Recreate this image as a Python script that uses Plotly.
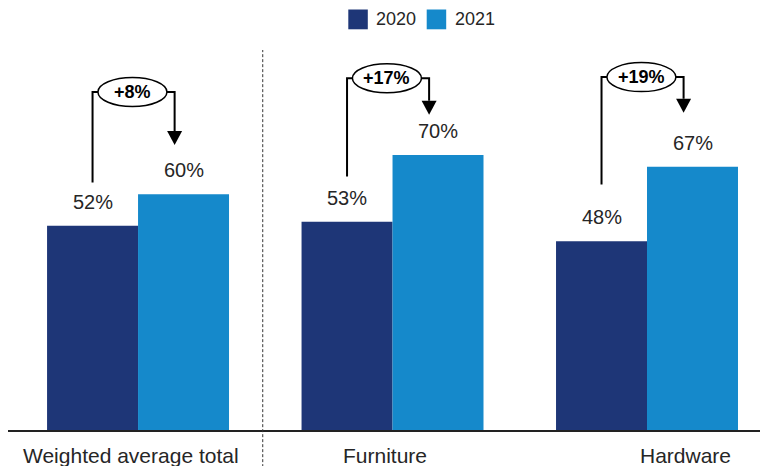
import plotly.graph_objects as go

# Data
categories = ["Weighted average total", "Furniture", "Hardware"]
years = ["2020", "2021"]
values_2020 = [52, 53, 48]
values_2021 = [60, 70, 67]
change_labels = ["+8%", "+17%", "+19%"]

# Styling / layout constants
DARK = "#1E3677"
LIGHT = "#1589CB"
TEXT = "#262626"
FONT = "Liberation Sans, Arial, sans-serif"
W, H = 760, 466
ML, MR, MT, MB = 8, 0, 37, 36
X_RANGE = [-0.511, 2.444]
Y_RANGE = [0, 100]
BARGAP = 0.285
half = (1 - BARGAP) / 2          # width of one bar in x units
off = half / 2                    # bar centre offset from category centre

# bracket geometry (in axis units)
bracket_start = [63, 64.5, 62.5]   # bottom of the left leg
bracket_top = [86, 89.5, 89.8]     # level of the horizontal run / bubble
arrow_tip = [72.5, 80.2, 80.7]     # tip of the arrow head
label_shift = [-0.028, -0.028, 0.153]

plot_w = W - ML - MR
plot_h = H - MT - MB
ux = plot_w / (X_RANGE[1] - X_RANGE[0])   # px per x unit
uy = plot_h / (Y_RANGE[1] - Y_RANGE[0])   # px per y unit


def px_x(p):
    return (p - ML) / plot_w


def px_y(p):
    return (H - MB - p) / plot_h


x_pos = list(range(len(categories)))

fig = go.Figure()
fig.add_trace(go.Bar(x=x_pos, y=values_2020, name=years[0], marker=dict(color=DARK, line=dict(width=0)),
                     hoverinfo="skip"))
fig.add_trace(go.Bar(x=x_pos, y=values_2021, name=years[1], marker=dict(color=LIGHT, line=dict(width=0)),
                     hoverinfo="skip"))

shapes = []
annotations = []

for i, cat in enumerate(categories):
    xl = i - off
    xr = i + off
    # value labels
    for xc, v in ((xl, values_2020[i]), (xr, values_2021[i])):
        annotations.append(dict(x=xc, y=v, xref="x", yref="y", text=f"{v}%", showarrow=False,
                                yanchor="middle", yshift=24, font=dict(size=20, color=TEXT, family=FONT)))
    # category label below the axis
    annotations.append(dict(x=i + label_shift[i], y=0, xref="x", yref="paper", text=cat, showarrow=False,
                            yanchor="middle", yshift=-25, font=dict(size=21, color=TEXT, family=FONT)))

    # bracket: left leg, run across, down to arrow
    ax_right = xr - 0.035
    head_h = 14 / uy
    head_w = 7.5 / ux
    top = bracket_top[i]
    shapes.append(dict(type="path", xref="x", yref="y",
                       path=f"M {xl},{bracket_start[i]} L {xl},{top} L {ax_right},{top} L {ax_right},{arrow_tip[i] + head_h}",
                       line=dict(color="#000000", width=2)))
    shapes.append(dict(type="path", xref="x", yref="y",
                       path=f"M {ax_right - head_w},{arrow_tip[i] + head_h} L {ax_right + head_w},{arrow_tip[i] + head_h} L {ax_right},{arrow_tip[i]} Z",
                       fillcolor="#000000", line=dict(color="#000000", width=0)))
    # bubble with the change label
    cx = i - 0.022
    rw = 34.5 / ux
    rh = 14.5 / uy
    shapes.append(dict(type="circle", xref="x", yref="y", x0=cx - rw, x1=cx + rw, y0=top - rh, y1=top + rh,
                       fillcolor="white", line=dict(color="#000000", width=1.5)))
    annotations.append(dict(x=cx, y=top, xref="x", yref="y", text=f"<b>{change_labels[i]}</b>", showarrow=False,
                            font=dict(size=18, color="#000000", family=FONT)))

# dotted separator between the total and the categories
shapes.append(dict(type="line", xref="x", yref="paper", x0=0.49, x1=0.49, y0=-0.12, y1=px_y(50),
                   line=dict(color="#333333", width=1, dash="3px,2px")))

# legend drawn as swatches + text
legend_items = [(years[0], DARK, 348.3, 375), (years[1], LIGHT, 426.7, 454)]
for name, col, sx, tx in legend_items:
    shapes.append(dict(type="rect", xref="paper", yref="paper", x0=px_x(sx), x1=px_x(sx + 19.5),
                       y0=px_y(29.3), y1=px_y(9.5), fillcolor=col, line=dict(width=0)))
    annotations.append(dict(x=px_x(tx - 1), y=px_y(19.3), xref="paper", yref="paper", text=name, showarrow=False,
                            xanchor="left", yanchor="middle", font=dict(size=18, color=TEXT, family=FONT)))

fig.update_layout(
    width=W, height=H,
    margin=dict(l=ML, r=MR, t=MT, b=MB, pad=0),
    paper_bgcolor="white", plot_bgcolor="white",
    barmode="group", bargap=BARGAP, bargroupgap=0,
    showlegend=False,
    shapes=shapes, annotations=annotations,
    xaxis=dict(range=X_RANGE, showgrid=False, zeroline=False, showticklabels=False, ticks="",
               showline=True, linecolor="#222222", linewidth=2, fixedrange=True),
    yaxis=dict(range=Y_RANGE, showgrid=False, zeroline=False, showticklabels=False, ticks="",
               showline=False, fixedrange=True),
)

fig.write_html("out.html", config={"displayModeBar": False})
